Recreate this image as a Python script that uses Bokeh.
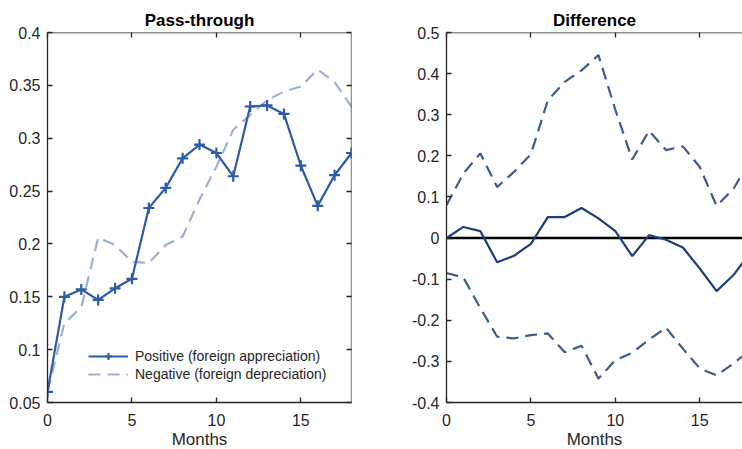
from bokeh.plotting import figure
from bokeh.layouts import row
from bokeh.models import (FixedTicker, LinearAxis, Range1d, Span, Legend, LegendItem)
from bokeh.embed import file_html
from bokeh.resources import INLINE

# ---------------- data ----------------
months = list(range(19))
positive = [0.060, 0.150, 0.157, 0.147, 0.158, 0.167, 0.234, 0.253, 0.281, 0.294,
            0.286, 0.264, 0.330, 0.331, 0.323, 0.274, 0.236, 0.265, 0.286]
negative = [0.060, 0.125, 0.140, 0.206, 0.199, 0.183, 0.182, 0.199, 0.207, 0.242,
            0.273, 0.308, 0.322, 0.336, 0.344, 0.349, 0.365, 0.353, 0.330]
diff_mid = [0.000, 0.027, 0.017, -0.059, -0.043, -0.014, 0.051, 0.051, 0.073, 0.048,
            0.017, -0.044, 0.007, -0.004, -0.023, -0.074, -0.129, -0.090, -0.035]
diff_upper = [0.080, 0.157, 0.206, 0.124, 0.161, 0.204, 0.335, 0.380, 0.408, 0.445,
              0.312, 0.191, 0.261, 0.214, 0.223, 0.173, 0.078, 0.120, 0.190]
diff_lower = [-0.085, -0.096, -0.170, -0.240, -0.244, -0.236, -0.232, -0.278, -0.262, -0.342,
              -0.297, -0.279, -0.247, -0.218, -0.269, -0.317, -0.334, -0.305, -0.272]

x_ticks = [0, 5, 10, 15]
left_y_ticks = [0.05, 0.1, 0.15, 0.2, 0.25, 0.3, 0.35, 0.4]
left_y_labels = ["0.05", "0.1", "0.15", "0.2", "0.25", "0.3", "0.35", "0.4"]
right_y_ticks = [-0.4, -0.3, -0.2, -0.1, 0.0, 0.1, 0.2, 0.3, 0.4, 0.5]
right_y_labels = ["-0.4", "-0.3", "-0.2", "-0.1", "0", "0.1", "0.2", "0.3", "0.4", "0.5"]

FONT = "Liberation Sans"
AXC = "#262626"
BOX_W = 1.3
POS_C = "#2D5CA6"
NEG_C = "#9DB1D1"
MID_C = "#1D3F79"
BAND_C = "#3F5C88"


def style_axis(ax, ticks, labels=None):
    ax.ticker = FixedTicker(ticks=ticks)
    ax.major_tick_in = 5
    ax.major_tick_out = 0
    ax.minor_tick_in = 0
    ax.minor_tick_out = 0
    ax.axis_line_color = AXC
    ax.axis_line_width = BOX_W
    ax.major_tick_line_color = AXC
    ax.major_tick_line_width = BOX_W
    ax.major_label_text_font = FONT
    ax.major_label_text_font_size = "16px"
    ax.major_label_text_color = AXC
    ax.axis_label_text_font = FONT
    ax.axis_label_text_font_size = "17px"
    ax.axis_label_text_font_style = "normal"
    ax.axis_label_text_color = AXC
    if labels is not None:
        ax.major_label_overrides = {t: l for t, l in zip(ticks, labels)}


def mirror_axis(ticks):
    # inward tick marks only on the opposite box side (minor ticks carry no labels)
    ax = LinearAxis(ticker=FixedTicker(ticks=[], minor_ticks=ticks))
    ax.axis_line_color = None
    ax.major_tick_in = 0
    ax.major_tick_out = 0
    ax.minor_tick_in = 5
    ax.minor_tick_out = 0
    ax.minor_tick_line_color = AXC
    ax.minor_tick_line_width = BOX_W
    ax.major_label_standoff = 0
    return ax


def make_fig(width, ylo, yhi, xhi, mb_left, mb_right, title):
    p = figure(width=width, height=462, output_backend="svg", toolbar_location=None,
               x_range=Range1d(0, xhi), y_range=Range1d(ylo, yhi),
               min_border_left=mb_left, min_border_right=mb_right,
               min_border_top=32, min_border_bottom=60,
               x_axis_location=None, y_axis_location=None)
    p.grid.visible = False
    p.outline_line_color = None
    p.background_fill_color = "white"
    p.border_fill_color = "white"
    p.title.text = title
    p.title.align = "center"
    p.title.text_font = FONT
    p.title.text_font_size = "17px"
    p.title.text_font_style = "bold"
    p.title.text_color = "black"
    p.title.standoff = 5
    return p


# ---------------- left panel ----------------
pl = make_fig(380, 0.05, 0.4, 18, 47, 29, "Pass-through")
axl = LinearAxis()
style_axis(axl, left_y_ticks, left_y_labels)
axl.major_label_standoff = 7
pl.add_layout(axl, "left")
axb = LinearAxis(axis_label="Months")
style_axis(axb, x_ticks)
axb.major_label_standoff = 11
axb.axis_label_standoff = 1
pl.add_layout(axb, "below")
pl.add_layout(mirror_axis(x_ticks), "above")
pl.add_layout(mirror_axis(left_y_ticks), "right")
# box edges (top and right) drawn at the range ends
pl.add_layout(Span(location=pl.y_range.end, dimension="width", line_color=AXC,
                   line_width=BOX_W))
pl.add_layout(Span(location=pl.x_range.end, dimension="height", line_color=AXC,
                   line_width=BOX_W))

r_neg = pl.line(months, negative, line_color=NEG_C, line_width=2.2, line_dash="12 7")
r_pos = pl.line(months, positive, line_color=POS_C, line_width=2.2)
r_pos_m = pl.scatter(months, positive, marker="cross", size=11, line_color=POS_C,
                     line_width=2.2)

legend = Legend(items=[
    LegendItem(label="Positive (foreign appreciation)", renderers=[r_pos, r_pos_m]),
    LegendItem(label="Negative (foreign depreciation)", renderers=[r_neg]),
], location=(41, 19))
legend.border_line_color = None
legend.background_fill_alpha = 0
legend.padding = 0
legend.margin = 0
legend.spacing = 0
legend.glyph_width = 40
legend.glyph_height = 18
legend.label_height = 18
legend.label_standoff = 7
legend.label_text_font = FONT
legend.label_text_font_size = "14px"
legend.label_text_color = AXC
pl.add_layout(legend, "center")

# ---------------- right panel ----------------
xhi_r = 295.5 / (303.4 / 18)
pr = make_fig(362, -0.4, 0.5, xhi_r, 66, 0, "Difference")
ayl = LinearAxis()
style_axis(ayl, right_y_ticks, right_y_labels)
ayl.major_label_standoff = 7
pr.add_layout(ayl, "left")
ayb = LinearAxis(axis_label="Months")
style_axis(ayb, x_ticks)
ayb.major_label_standoff = 11
ayb.axis_label_standoff = 1
pr.add_layout(ayb, "below")
pr.add_layout(mirror_axis(x_ticks), "above")
pr.add_layout(Span(location=pr.y_range.end, dimension="width", line_color=AXC,
                   line_width=BOX_W))

zero = Span(location=0, dimension="width", line_color="black", line_width=2.5,
            level="underlay")
pr.add_layout(zero)
pr.line(months, diff_upper, line_color=BAND_C, line_width=2.2, line_dash="12 7")
pr.line(months, diff_lower, line_color=BAND_C, line_width=2.2, line_dash="12 7")
pr.line(months, diff_mid, line_color=MID_C, line_width=2.2)

layout = row(pl, pr)
open("out.html", "w").write(file_html(layout, INLINE))
